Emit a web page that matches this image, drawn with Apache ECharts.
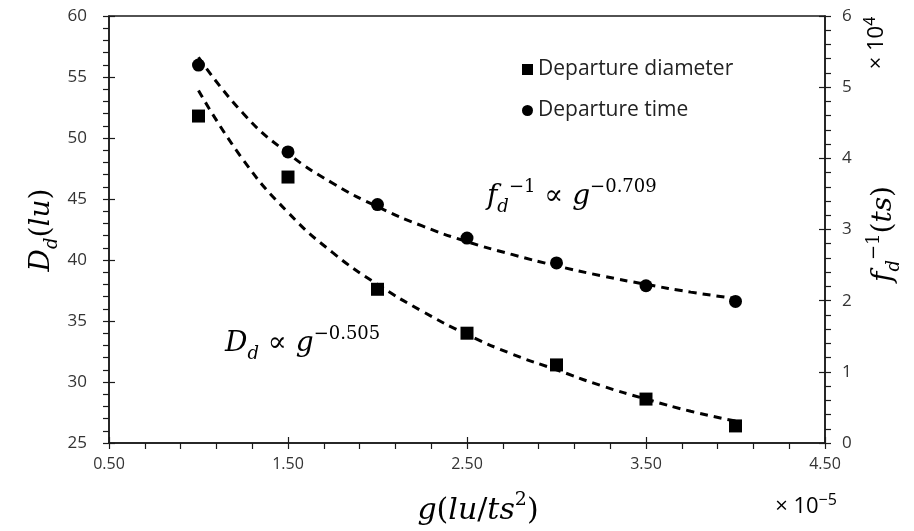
<!DOCTYPE html>
<html><head><meta charset="utf-8">
<script src="https://cdn.jsdelivr.net/npm/echarts@6/dist/echarts.min.js"></script>
<style>html,body{margin:0;padding:0;background:#fff}#c{width:914px;height:531px}</style>
</head><body><div id="c"></div>
<script>
// ---- data ----
const gValues      = [1.0, 1.5, 2.0, 2.5, 3.0, 3.5, 4.0];          // x (×10^-5)
const diameterVals = [51.8, 46.8, 37.6, 34.0, 31.4, 28.6, 26.4];    // D_d (lu), left axis
const timeVals     = [5.31, 4.09, 3.35, 2.88, 2.53, 2.21, 1.99];    // f_d^-1 (ts) ×10^4, right axis
// dashed trend curves
const fitG         = [1.0, 1.25, 1.5, 1.75, 2.0, 2.25, 2.5, 2.75, 3.0, 3.25, 3.5, 3.75, 4.0];
const diameterFit  = [53.9, 48.2, 43.9, 40.6, 38.0, 35.8, 33.9, 32.3, 31.0, 29.7, 28.6, 27.6, 26.8];
const timeFit      = [5.42, 4.63, 4.07, 3.65, 3.32, 3.05, 2.83, 2.65, 2.49, 2.35, 2.23, 2.12, 2.03];
const seriesNames  = ['Departure diameter', 'Departure time'];
const xRange = [0.5, 4.5], xStep = 1;
const leftRange = [25, 60], leftStep = 5;
const rightRange = [0, 6], rightStep = 1;

const pairs = (xs, ys) => xs.map((x, i) => [x, ys[i]]);

const AX = '#1a1a1a';
const LBL = '#333333';
const lblFont = '"Open Sans", "Noto Sans", sans-serif';
const mathFont = '"DejaVu Serif", serif';

function baseAxis(extra) {
  return Object.assign({
    type: 'value',
    axisLine: { show: true, onZero: false, lineStyle: { color: AX, width: 1.5 } },
    axisTick: { show: true, inside: false, length: 6, lineStyle: { color: AX, width: 1.2 } },
    minorTick: { show: true, splitNumber: 5, length: 6, lineStyle: { color: AX, width: 1.2 } },
    splitLine: { show: false },
    minorSplitLine: { show: false },
    axisLabel: { color: LBL, fontFamily: lblFont, fontSize: 17 }
  }, extra);
}
// duplicate axes carrying the inner half of the crossing major ticks
function innerAxis(extra) {
  return Object.assign({
    type: 'value',
    show: true,
    axisLine: { show: true, onZero: false, lineStyle: { color: 'rgba(0,0,0,0)' } },
    axisTick: { show: true, inside: true, length: 6, lineStyle: { color: AX, width: 1.2 } },
    minorTick: { show: false },
    splitLine: { show: false },
    axisLabel: { show: false }
  }, extra);
}

const mathRich = {
  i:   { fontFamily: mathFont, fontStyle: 'italic', fontSize: 28, lineHeight: 38, color: '#000' },
  r:   { fontFamily: mathFont, fontSize: 28, lineHeight: 38, color: '#000' },
  sub: { fontFamily: mathFont, fontStyle: 'italic', fontSize: 18, lineHeight: 15, verticalAlign: 'bottom', color: '#000' },
  sup: { fontFamily: mathFont, fontSize: 18, lineHeight: 18, verticalAlign: 'top', color: '#000' }
};
const bigRich = {
  i:   { fontFamily: mathFont, fontStyle: 'italic', fontSize: 30, lineHeight: 40, color: '#000' },
  r:   { fontFamily: mathFont, fontSize: 30, lineHeight: 40, color: '#000' },
  sup: { fontFamily: mathFont, fontSize: 19, lineHeight: 19, verticalAlign: 'top', color: '#000' }
};
const smallRich = {
  t:   { fontFamily: lblFont, fontSize: 22, lineHeight: 30, color: LBL },
  sup: { fontFamily: lblFont, fontSize: 16, lineHeight: 16, verticalAlign: 'top', color: LBL }
};

const option = {
  backgroundColor: '#fff',
  animation: false,
  grid: { left: 109, right: 89, top: 16, bottom: 88, show: true, borderColor: AX, borderWidth: 1.5, backgroundColor: 'transparent', containLabel: false, outerBoundsMode: 'none' },
  legend: {
    data: [{ name: seriesNames[0], icon: 'rect' }, { name: seriesNames[1], icon: 'circle' }],
    orient: 'vertical', left: 517, top: 54, itemWidth: 11, itemHeight: 11, itemGap: 20,
    textStyle: { color: '#222', fontFamily: lblFont, fontSize: 21 }
  },
  xAxis: [
    baseAxis({ position: 'bottom', min: xRange[0], max: xRange[1], interval: xStep,
      axisLabel: { color: LBL, fontFamily: lblFont, fontSize: 16, margin: 13, formatter: v => v.toFixed(2) } }),
    innerAxis({ position: 'bottom', min: xRange[0], max: xRange[1], interval: xStep })
  ],
  yAxis: [
    baseAxis({ position: 'left', min: leftRange[0], max: leftRange[1], interval: leftStep,
      axisLabel: { color: LBL, fontFamily: lblFont, fontSize: 17, margin: 22 } }),
    baseAxis({ position: 'right', min: rightRange[0], max: rightRange[1], interval: rightStep,
      axisLabel: { color: LBL, fontFamily: lblFont, fontSize: 17, margin: 17 } }),
    innerAxis({ position: 'left', min: leftRange[0], max: leftRange[1], interval: leftStep }),
    innerAxis({ position: 'right', min: rightRange[0], max: rightRange[1], interval: rightStep })
  ],
  series: [
    { name: 'diameterFit', type: 'line', xAxisIndex: 0, yAxisIndex: 0, data: pairs(fitG, diameterFit),
      smooth: true, showSymbol: false, symbol: 'none', silent: true, z: 1,
      lineStyle: { color: '#000', width: 3, type: [8, 6] } },
    { name: 'timeFit', type: 'line', xAxisIndex: 0, yAxisIndex: 1, data: pairs(fitG, timeFit),
      smooth: true, showSymbol: false, symbol: 'none', silent: true, z: 1,
      lineStyle: { color: '#000', width: 3, type: [8, 6] } },
    { name: seriesNames[0], type: 'scatter', xAxisIndex: 0, yAxisIndex: 0, data: pairs(gValues, diameterVals),
      symbol: 'rect', symbolSize: 13, itemStyle: { color: '#000', opacity: 1 }, z: 3 },
    { name: seriesNames[1], type: 'scatter', xAxisIndex: 0, yAxisIndex: 1, data: pairs(gValues, timeVals),
      symbol: 'circle', symbolSize: 13, itemStyle: { color: '#000', opacity: 1 }, z: 3 }
  ],
  graphic: [
    { type: 'text', x: 42, y: 230, rotation: Math.PI / 2,
      style: { text: '{i|D}{sub|d}{r|(}{i|lu}{r|)}', rich: mathRich, align: 'center', verticalAlign: 'middle' } },
    { type: 'text', x: 884, y: 234, rotation: Math.PI / 2,
      style: { text: '{i|f}{sub|d}{sup|−1}{r|(}{i|ts}{r|)}', rich: mathRich, align: 'center', verticalAlign: 'middle' } },
    { type: 'text', x: 877, y: 43, rotation: Math.PI / 2,
      style: { text: '{t|× 10}{sup|4}', rich: smallRich, align: 'center', verticalAlign: 'middle' } },
    { type: 'text', x: 478, y: 511,
      style: { text: '{i|g}{r|(}{i|lu}{r|/}{i|ts}{sup|2}{r|)}', rich: bigRich, align: 'center', verticalAlign: 'middle' } },
    { type: 'text', x: 806, y: 507,
      style: { text: '{t|× 10}{sup|−5}', rich: smallRich, align: 'center', verticalAlign: 'middle' } },
    { type: 'text', left: 487, top: 178,
      style: { text: '{i|f}{sub|d}{sup|−1}{r| ∝ }{i|g}{sup|−0.709}', rich: mathRich } },
    { type: 'text', left: 225, top: 325,
      style: { text: '{i|D}{sub|d}{r| ∝ }{i|g}{sup|−0.505}', rich: mathRich } }
  ]
};

const chart = echarts.init(document.getElementById('c'), null, { renderer: 'canvas' });
chart.setOption(option);
</script>
</body></html>
